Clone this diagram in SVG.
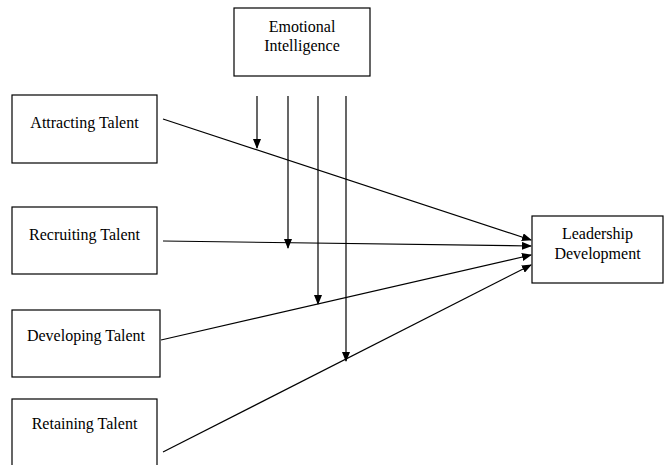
<svg xmlns="http://www.w3.org/2000/svg" width="665" height="465" viewBox="0 0 665 465">
<defs>
<style>
.box{fill:#fff;stroke:#000;stroke-width:1.2}
.t{font-family:"Liberation Serif","Times New Roman",serif;font-size:16px;fill:#000;text-anchor:middle}
.c{stroke:#000;stroke-width:1.2;fill:none;marker-end:url(#ah)}
</style>
<marker id="ah" markerWidth="10" markerHeight="8" refX="9" refY="4" orient="auto" markerUnits="userSpaceOnUse">
<path d="M0,0 L10,4 L0,8 Z" fill="#000"/>
</marker>
</defs>
<rect width="665" height="465" fill="#fff"/>
<g id="ei"><rect class="box" x="234" y="8" width="136" height="68"/><text class="t" x="302" y="32">Emotional</text><text class="t" x="302" y="51">Intelligence</text></g>
<g id="attracting"><rect class="box" x="12" y="95" width="145" height="68"/><text class="t" x="84.5" y="128">Attracting Talent</text></g>
<g id="recruiting"><rect class="box" x="12" y="207" width="145" height="67"/><text class="t" x="84.5" y="240">Recruiting Talent</text></g>
<g id="developing"><rect class="box" x="12" y="310" width="148" height="67"/><text class="t" x="86" y="341">Developing Talent</text></g>
<g id="retaining"><rect class="box" x="12" y="399" width="145" height="70"/><text class="t" x="84.5" y="429">Retaining Talent</text></g>
<g id="leadership"><rect class="box" x="532" y="216" width="131" height="67"/><text class="t" x="597.5" y="239">Leadership</text><text class="t" x="597.5" y="259">Development</text></g>
<g id="connectors">
<line class="c" x1="163" y1="119" x2="531" y2="240"/>
<line class="c" x1="163" y1="241" x2="531" y2="246"/>
<line class="c" x1="161" y1="340" x2="531" y2="255"/>
<line class="c" x1="163" y1="452" x2="531" y2="265"/>
<line class="c" x1="257" y1="96" x2="257" y2="148"/>
<line class="c" x1="288" y1="96" x2="288" y2="248"/>
<line class="c" x1="318" y1="96" x2="318" y2="304"/>
<line class="c" x1="346" y1="96" x2="346" y2="361"/>
</g>
</svg>
